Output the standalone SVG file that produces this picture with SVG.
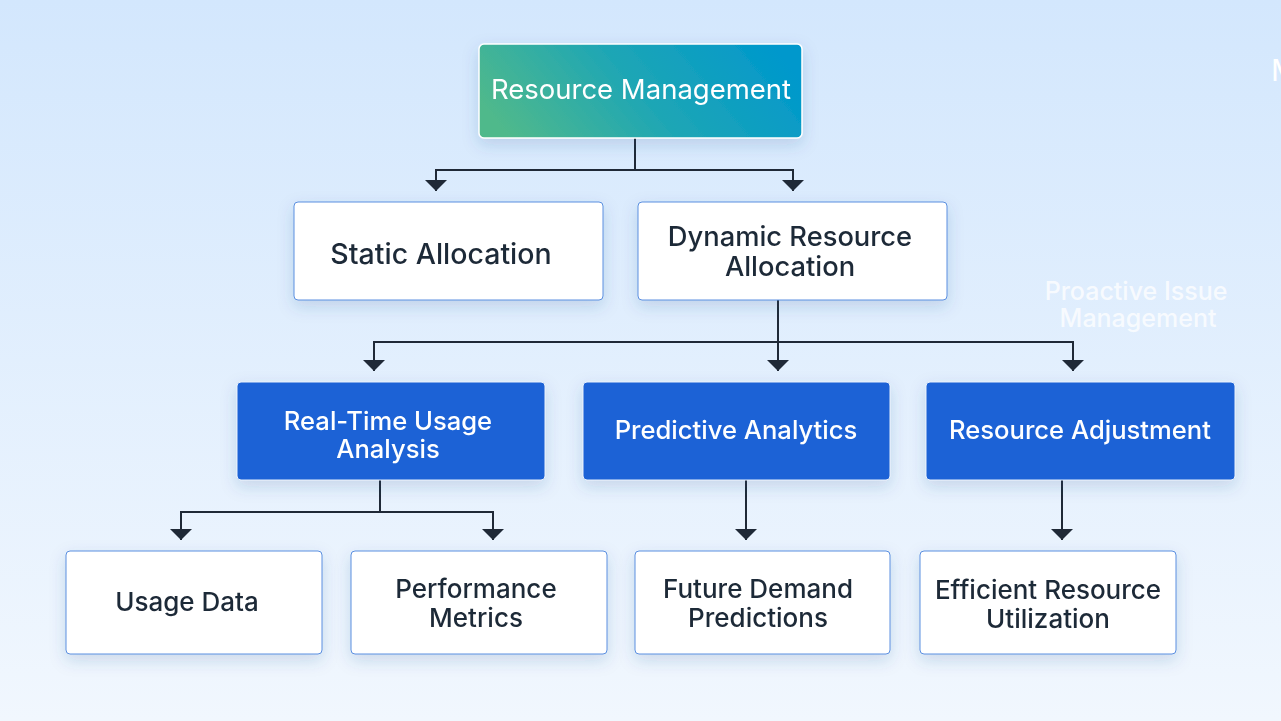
<svg xmlns="http://www.w3.org/2000/svg" width="1281" height="721" viewBox="0 0 1281 721">
  <defs>
    <linearGradient id="bg" x1="0" y1="0" x2="0" y2="1">
      <stop offset="0" stop-color="#d3e7fd"/>
      <stop offset="1" stop-color="#f1f7fe"/>
    </linearGradient>
    <linearGradient id="rootg" x1="0" y1="0.62" x2="1" y2="0.38">
      <stop offset="0" stop-color="#50b98b"/>
      <stop offset="0.5" stop-color="#1ea6b5"/>
      <stop offset="1" stop-color="#0098cc"/>
    </linearGradient>
    <filter id="sh" x="-20%" y="-30%" width="140%" height="170%">
      <feDropShadow dx="0" dy="6" stdDeviation="8" flood-color="#2a4f8f" flood-opacity="0.18"/>
    </filter>
    <marker id="ah" viewBox="0 0 22 11" refX="11" refY="11" markerWidth="22" markerHeight="11" markerUnits="userSpaceOnUse" orient="0">
      <path d="M0,0 L22,0 L11,11 Z" fill="#1f2937"/>
    </marker>
    <style>
      .w { fill:#ffffff; stroke:#5b8fe0; stroke-width:1; }
      .b { fill:#1a62d6; stroke:#e8f0fc; stroke-width:1; }
      .r { fill:url(#rootg); stroke:#ffffff; stroke-width:1.5; }
      .dt { font-family:Inter, "Noto Sans", "Liberation Sans", sans-serif; font-size:26px; font-weight:500; fill:#1f2937; text-anchor:middle; }
      .lt { font-family:Inter, "Noto Sans", "Liberation Sans", sans-serif; font-size:25.6px; font-weight:500; fill:#ffffff; text-anchor:middle; }
      .rt { font-family:Inter, "Noto Sans", "Liberation Sans", sans-serif; font-size:27.5px; font-weight:400; fill:#ffffff; text-anchor:middle; }
      .c { fill:none; stroke:#1f2937; stroke-width:2; }
      .ghost { font-family:Inter, "Noto Sans", "Liberation Sans", sans-serif; font-size:25px; font-weight:500; fill:#ffffff; fill-opacity:0.75; text-anchor:middle; }
    </style>
  </defs>
  <rect x="0" y="0" width="1281" height="721" fill="url(#bg)"/>

  <g id="connectors">
    <path class="c" d="M635,138 V170 H436 V191" marker-end="url(#ah)"/>
    <path class="c" d="M635,170 H793 V191" marker-end="url(#ah)"/>
    <path class="c" d="M778,300 V342 H374 V371" marker-end="url(#ah)"/>
    <path class="c" d="M778,342 V371" marker-end="url(#ah)"/>
    <path class="c" d="M778,342 H1073 V371" marker-end="url(#ah)"/>
    <path class="c" d="M380,480 V512 H181 V540" marker-end="url(#ah)"/>
    <path class="c" d="M380,512 H493 V540" marker-end="url(#ah)"/>
    <path class="c" d="M746,480 V540" marker-end="url(#ah)"/>
    <path class="c" d="M1062,480 V540" marker-end="url(#ah)"/>
  </g>

  <g id="node-root" filter="url(#sh)">
    <rect class="r" x="479" y="44" width="323" height="94" rx="5"/>
    <text class="rt" x="641" y="99">Resource Management</text>
  </g>

  <g id="node-static" filter="url(#sh)">
    <rect class="w" x="294" y="202" width="309" height="98" rx="4"/>
    <text class="dt" x="441" y="264" style="font-size:28.5px">Static Allocation</text>
  </g>
  <g id="node-dynamic" filter="url(#sh)">
    <rect class="w" x="638" y="202" width="309" height="98" rx="4"/>
    <text class="dt" x="790" y="246" style="font-size:27.3px">Dynamic Resource</text>
    <text class="dt" x="790" y="276" style="font-size:27.3px">Allocation</text>
  </g>

  <g id="node-realtime" filter="url(#sh)">
    <rect class="b" x="237" y="382" width="308" height="98" rx="4"/>
    <text class="lt" x="388" y="430">Real-Time Usage</text>
    <text class="lt" x="388" y="458">Analysis</text>
  </g>
  <g id="node-predictive" filter="url(#sh)">
    <rect class="b" x="583" y="382" width="307" height="98" rx="4"/>
    <text class="lt" x="736" y="439">Predictive Analytics</text>
  </g>
  <g id="node-adjustment" filter="url(#sh)">
    <rect class="b" x="926" y="382" width="309" height="98" rx="4"/>
    <text class="lt" x="1080" y="439">Resource Adjustment</text>
  </g>

  <g id="node-usage" filter="url(#sh)">
    <rect class="w" x="66" y="551" width="256" height="103" rx="4"/>
    <text class="dt" x="187" y="611">Usage Data</text>
  </g>
  <g id="node-performance" filter="url(#sh)">
    <rect class="w" x="351" y="551" width="256" height="103" rx="4"/>
    <text class="dt" x="476" y="598">Performance</text>
    <text class="dt" x="476" y="627">Metrics</text>
  </g>
  <g id="node-future" filter="url(#sh)">
    <rect class="w" x="635" y="551" width="255" height="103" rx="4"/>
    <text class="dt" x="758" y="598">Future Demand</text>
    <text class="dt" x="758" y="627">Predictions</text>
  </g>
  <g id="node-efficient" filter="url(#sh)">
    <rect class="w" x="920" y="551" width="256" height="103" rx="4"/>
    <text class="dt" x="1048" y="599">Efficient Resource</text>
    <text class="dt" x="1048" y="628">Utilization</text>
  </g>

  <g id="label-proactive">
    <text class="ghost" x="1136" y="300">Proactive Issue</text>
    <text class="ghost" x="1138" y="327">Management</text>
  </g>
  <g id="label-m">
    <text x="1271" y="81" font-family="Inter, 'Noto Sans', 'Liberation Sans', sans-serif" font-size="30" font-weight="400" fill="#ffffff">M</text>
  </g>
</svg>
